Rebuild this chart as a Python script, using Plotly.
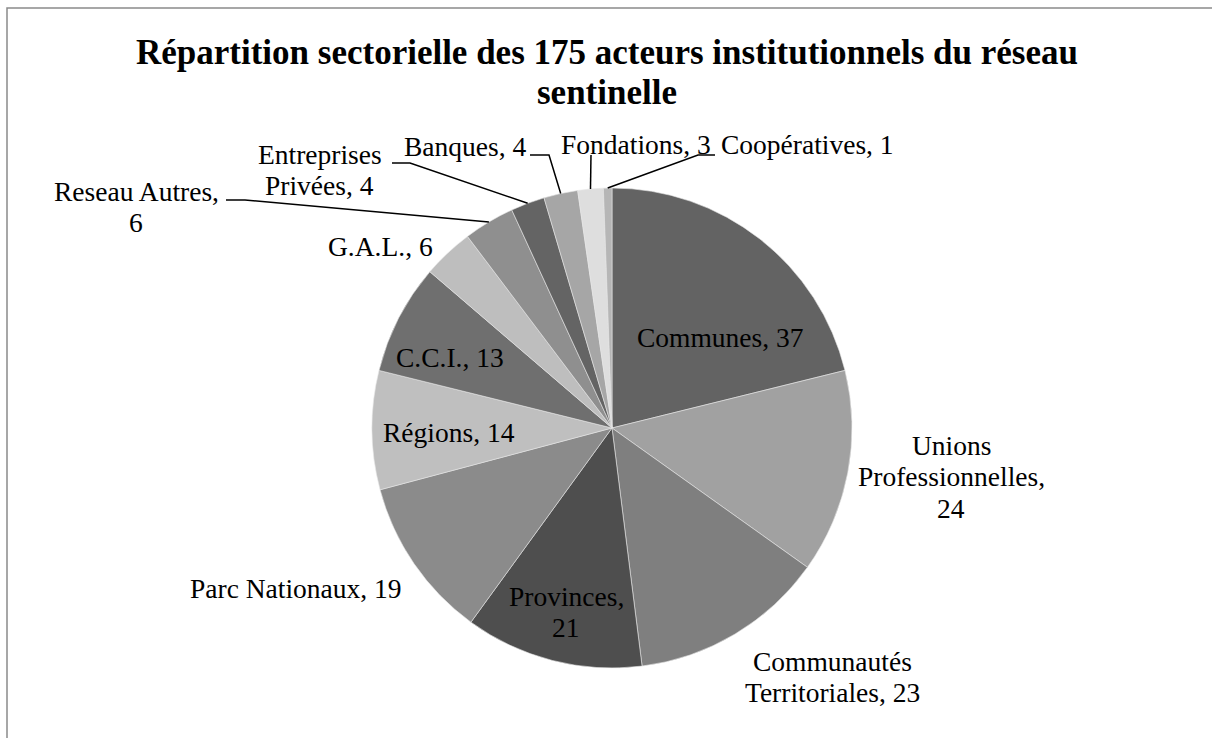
import math
import plotly.graph_objects as go

W, H = 1212, 738

categories = ["Communes", "Unions Professionnelles", "Communautés Territoriales", "Provinces",
              "Parc Nationaux", "Régions", "C.C.I.", "G.A.L.", "Reseau Autres",
              "Entreprises Privées", "Banques", "Fondations", "Coopératives"]
values = [37, 24, 23, 21, 19, 14, 13, 6, 6, 4, 4, 3, 1]
colors = ["#636363", "#a1a1a1", "#7f7f7f", "#4e4e4e", "#8b8b8b", "#bfbfbf", "#6f6f6f",
          "#bebebe", "#8f8f8f", "#646464", "#a6a6a6", "#dedede", "#b6b6b6"]

title_lines = ["Répartition sectorielle des 175 acteurs institutionnels du réseau", "sentinelle"]

# label text lines per slice
label_lines = [
    ["Communes, 37"],
    ["Unions", "Professionnelles,", "24"],
    ["Communautés", "Territoriales, 23"],
    ["Provinces,", "21"],
    ["Parc Nationaux, 19"],
    ["Régions, 14"],
    ["C.C.I., 13"],
    ["G.A.L., 6"],
    ["Reseau Autres,", "6"],
    ["Entreprises", "Privées, 4"],
    ["Banques, 4"],
    ["Fondations, 3"],
    ["Coopératives, 1"],
]
# layout: (x px, first baseline px, anchor)
label_pos = [
    (720, 346, "center"),
    (951, 454, "center"),
    (832, 670, "center"),
    (566, 605, "center"),
    (404, 597, "right"),
    (449, 441, "center"),
    (450, 366, "center"),
    (380, 255, "center"),
    (136, 200, "center"),
    (320, 163, "center"),
    (465, 155, "center"),
    (636, 153, "center"),
    (807, 153, "center"),
]
# leader line elbows (px) for slices with leaders
leaders = {
    8: [(245, 200), (226, 200)],
    9: [(410, 163), (392, 163)],
    10: [(549, 155), (530, 155)],
    11: [(591, 155)],
    12: [(698, 155), (715, 155)],
}

CX, CY, R = 612, 428, 240
FONT = "Liberation Serif"
LSIZE = 27.5
LSPACE = 31.5
TSIZE = 35
TSPACE = 40

def px(x):
    return x / W

def py(y):
    return 1 - y / H

fig = go.Figure(go.Pie(
    labels=categories, values=values, sort=False, direction="clockwise", rotation=0,
    marker=dict(colors=colors, line=dict(color="#e6e6e6", width=0.6)),
    textinfo="none", hoverinfo="label+value", showlegend=False,
    domain=dict(x=[px(CX - R), px(CX + R)], y=[py(CY + R), py(CY - R)]),
))

annotations = []
for i, t in enumerate(title_lines):
    annotations.append(dict(text="<b>" + t + "</b>", x=px(607), y=py(64 + TSPACE * i - 0.32 * TSIZE),
                            xref="paper", yref="paper", xanchor="center", yanchor="middle",
                            showarrow=False, font=dict(family=FONT, size=TSIZE, color="black")))

for lines, (x, y0, anc) in zip(label_lines, label_pos):
    for j, t in enumerate(lines):
        annotations.append(dict(text=t, x=px(x), y=py(y0 + LSPACE * j - 0.32 * LSIZE),
                                xref="paper", yref="paper", xanchor=anc, yanchor="middle",
                                showarrow=False, font=dict(family=FONT, size=LSIZE, color="black")))

shapes = [dict(type="rect", xref="paper", yref="paper", x0=px(7), y0=py(8), x1=px(1240), y1=py(760),
               line=dict(color="#8a8a8a", width=1.5), fillcolor="rgba(0,0,0,0)")]

total = sum(values)
cum = 0
for i, v in enumerate(values):
    mid = (cum + v / 2) / total * 2 * math.pi
    cum += v
    if i in leaders:
        ex = CX + R * math.sin(mid)
        ey = CY - R * math.cos(mid)
        pts = [(ex, ey)] + leaders[i]
        path = "M " + " L ".join(f"{px(a):.5f},{py(b):.5f}" for a, b in pts)
        shapes.append(dict(type="path", xref="paper", yref="paper", path=path,
                           line=dict(color="black", width=1.5)))

fig.update_layout(width=W, height=H, margin=dict(l=0, r=0, t=0, b=0),
                  paper_bgcolor="white", plot_bgcolor="white",
                  annotations=annotations, shapes=shapes)

fig.write_html("out.html", config={"displayModeBar": False},
               post_script="document.body.style.margin='0';document.body.style.overflow='hidden';")
